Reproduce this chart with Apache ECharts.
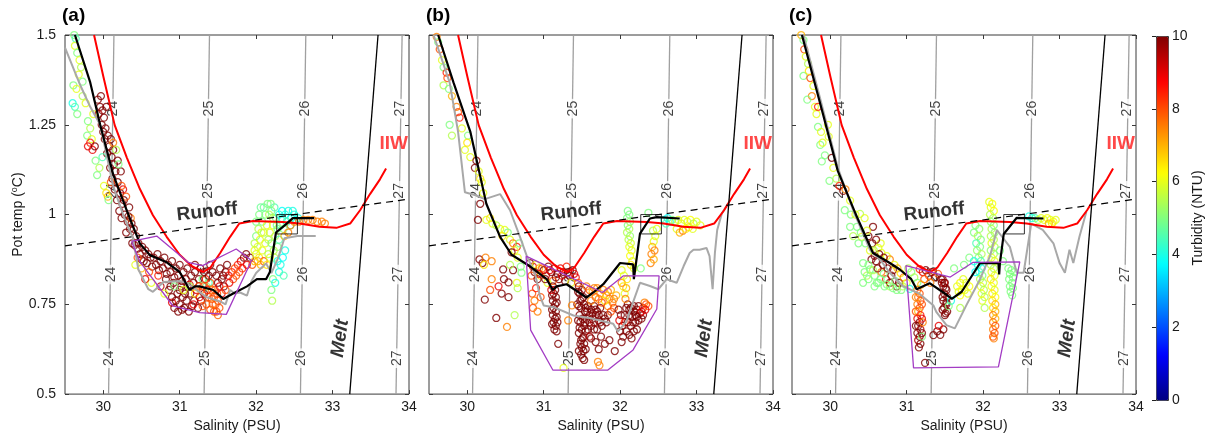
<!DOCTYPE html>
<html><head><meta charset="utf-8">
<script src="https://cdn.jsdelivr.net/npm/echarts@6/dist/echarts.min.js"></script>
<style>html,body{margin:0;padding:0;background:#fff}#chart{width:1211px;height:438px}</style>
</head><body><div id="chart"></div>
<script>
// Potential temperature vs salinity, three surveys, points coloured by turbidity (NTU)
const salTicks = [30, 31, 32, 33, 34];
const tempTicks = [0.5, 0.75, 1, 1.25, 1.5];
const turbTicks = [0, 2, 4, 6, 8, 10];

// sigma-theta isopycnals: salinity where each meets 0.5 and 1.5 degC
const isoLevels = ['24', '25', '26', '27'];
const isoBottomS = [30.07, 31.32, 32.58, 33.83];
const isoTopS = [30.14, 31.39, 32.65, 33.91];
const isoLabelT = [1.295, 1.066, 0.833, 0.60];
const isoLabelS = [
  [30.13, 30.12, 30.10, 30.08],
  [31.38, 31.37, 31.35, 31.33],
  [32.64, 32.62, 32.61, 32.59],
  [33.89, 33.87, 33.86, 33.84]
];

// mixing lines
const iiwLine = [[29.88,1.5],[30.0,1.386],[30.15,1.249],[30.31,1.158],[30.48,1.071],[30.65,0.998],[30.83,0.938],[31.0,0.888],[31.16,0.856],[31.31,0.84],[31.4,0.852],[31.53,0.893],[31.66,0.938],[31.78,0.975],[31.96,0.982],[32.35,0.979],[32.57,0.975],[32.83,0.966],[33.05,0.963],[33.23,0.975],[33.36,1.012],[33.49,1.057],[33.62,1.098],[33.7,1.128]];
const runoffLine = [[29.5,0.913],[34,1.043]];
const meltLine = [[33.225,0.5],[33.595,1.5]];
const boxOutline = [[32.27,0.946],[32.54,0.946],[32.54,1.0],[32.27,1.0],[32.27,0.946]];
const runoffLabelPos = [31.36, 1.007];
const meltLabelPos = [33.10, 0.655];
const iiwLabelPos = [33.80, 1.196];

// mean profiles (black)
const meanA = [[29.63,1.5],[29.83,1.368],[29.96,1.25],[30.13,1.112],[30.31,1.01],[30.48,0.919],[30.61,0.887],[30.83,0.867],[31.0,0.84],[31.13,0.79],[31.2,0.8],[31.26,0.8],[31.44,0.79],[31.57,0.765],[31.7,0.78],[31.88,0.8],[32.01,0.82],[32.13,0.82],[32.18,0.84],[32.26,0.95],[32.37,0.969],[32.48,0.99],[32.76,0.99]];
const meanB = [[29.62,1.5],[29.82,1.368],[30.04,1.231],[30.25,1.03],[30.43,0.938],[30.58,0.888],[30.82,0.856],[31.04,0.82],[31.12,0.79],[31.17,0.8],[31.3,0.806],[31.56,0.769],[31.65,0.783],[31.78,0.806],[32.0,0.865],[32.17,0.861],[32.18,0.82],[32.26,0.947],[32.39,0.989],[32.48,0.993],[32.78,0.989]];
const meanC = [[29.63,1.5],[29.91,1.276],[30.1,1.121],[30.35,0.993],[30.56,0.893],[30.78,0.865],[30.91,0.847],[31.06,0.82],[31.13,0.792],[31.3,0.809],[31.48,0.783],[31.59,0.765],[31.72,0.785],[31.96,0.865],[32.2,0.865],[32.21,0.833],[32.22,0.865],[32.27,0.946],[32.44,0.991],[32.79,0.989]];

// reference profiles (grey)
const refA = [[29.5,1.465],[29.7,1.36],[29.83,1.3],[29.96,1.25],[30.04,1.17],[30.13,1.08],[30.26,1.0],[30.39,0.933],[30.46,0.847],[30.59,0.792],[30.65,0.785],[30.79,0.812],[31.0,0.815],[31.09,0.81],[31.35,0.77],[31.53,0.758],[31.6,0.75],[31.66,0.79],[31.72,0.78],[31.79,0.783],[31.88,0.774],[31.94,0.815],[32.0,0.837],[32.13,0.864],[32.2,0.837],[32.29,0.88],[32.37,0.934],[32.54,0.94],[32.78,0.94]];
const refB = [[29.56,1.5],[29.77,1.368],[29.88,1.231],[29.97,1.062],[30.12,1.053],[30.23,1.043],[30.43,1.057],[30.56,1.012],[30.69,0.938],[30.78,0.884],[30.89,0.833],[30.95,0.774],[31.0,0.747],[31.13,0.742],[31.39,0.719],[31.6,0.712],[31.91,0.696],[31.97,0.674],[32.08,0.701],[32.17,0.756],[32.26,0.81],[32.39,0.801],[32.5,0.792],[32.61,0.82],[32.74,0.81],[32.83,0.856],[32.91,0.893],[32.96,0.902],[33.04,0.902],[33.13,0.907],[33.17,0.884],[33.21,0.792],[33.24,0.893],[33.27,0.957],[33.33,1.002],[33.41,1.03]];
const refC = [[29.65,1.5],[29.87,1.322],[30.1,1.13],[30.3,1.012],[30.52,0.902],[30.65,0.875],[30.78,0.838],[30.95,0.801],[31.17,0.779],[31.35,0.747],[31.39,0.728],[31.52,0.692],[31.63,0.683],[31.78,0.747],[31.96,0.82],[32.09,0.884],[32.18,0.957],[32.35,0.91],[32.44,0.838],[32.53,0.838],[32.63,0.975],[32.78,0.957],[32.92,0.92],[33.0,0.865],[33.07,0.838],[33.13,0.902],[33.18,0.865],[33.26,0.938],[33.35,1.007]];

// outlines of the deep water groups (purple)
const groupA = [[30.37,0.925],[30.7,0.94],[31.11,0.867],[31.3,0.858],[31.74,0.904],[31.94,0.872],[31.61,0.722],[31.26,0.727],[30.91,0.746],[30.48,0.869],[30.37,0.925]];
const groupB = [[30.77,0.884],[31.77,0.783],[32.04,0.829],[32.51,0.829],[32.48,0.737],[32.17,0.623],[31.84,0.567],[31.12,0.567],[30.83,0.678],[30.77,0.884]];
const groupC = [[30.99,0.858],[31.57,0.826],[31.87,0.867],[32.48,0.868],[32.2,0.576],[31.09,0.573],[30.99,0.858]];

// observations: [salinity, pot temp, turbidity]
const obsA = [
[29.62,1.50,5],[29.64,1.49,4.5],[29.63,1.47,6],[29.66,1.45,5],[29.69,1.43,6],[29.71,1.41,5.5],[29.68,1.39,6],[29.73,1.37,5],[29.61,1.36,5],[29.65,1.35,6],[29.60,1.31,4],[29.63,1.30,4.5],[29.66,1.28,5],[29.73,1.33,5.5],[29.77,1.31,6],[29.80,1.26,5],[29.83,1.24,5.5],[29.87,1.28,6],[29.79,1.22,5],[29.85,1.21,6],
[29.93,1.32,10],[29.96,1.30,10],[29.94,1.28,9.5],[29.99,1.29,10],[30.01,1.27,10],[29.98,1.25,10],[30.03,1.24,10],[30.06,1.22,10],[30.02,1.21,10],[30.08,1.19,10],[30.05,1.17,10],[30.11,1.16,10],[30.14,1.14,10],[30.09,1.13,10],[30.16,1.12,10],[30.12,1.10,10],[30.19,1.09,10],[30.15,1.07,10],[30.22,1.06,10],[30.18,1.04,10],[30.25,1.03,10],[30.21,1.01,10],
[29.97,1.33,10],[30.04,1.30,10],[30.00,1.23,10],[30.10,1.21,10],[30.13,1.18,10],[30.19,1.15,10],[30.23,1.12,10],[30.26,1.07,9],[30.27,1.04,10],[30.24,0.99,10],[30.34,1.02,10],
[29.80,1.19,9],[29.83,1.20,8.5],[29.86,1.18,9],[29.89,1.19,10],[30.10,1.09,8],[30.13,1.20,7.5],[30.24,1.08,8],[30.30,1.05,8],[30.36,0.99,7.5],[30.06,1.05,7],
[29.90,1.15,5],[29.95,1.13,5.5],[29.92,1.11,5],[29.99,1.16,4.5],[30.01,1.08,6],[30.04,1.06,6.5],[30.07,1.04,5],[30.20,1.14,5],[30.17,1.18,5.5],
[30.28,1.00,10],[30.32,0.98,10],[30.35,0.96,10],[30.30,0.95,10],[30.40,0.96,10],[30.43,0.94,10],[30.46,0.92,10],[30.38,0.92,10],[30.51,0.91,10],[30.48,0.89,10],[30.55,0.90,10],[30.59,0.89,10],[30.62,0.88,10],[30.53,0.87,10],[30.66,0.88,10],[30.71,0.89,10],[30.69,0.86,10],[30.75,0.87,10],[30.80,0.88,10],[30.78,0.85,10],[30.85,0.86,10],[30.90,0.87,10],[30.88,0.84,10],[30.95,0.85,10],[31.00,0.86,10],[30.98,0.83,10],[31.05,0.84,10],[31.10,0.85,10],[31.08,0.82,10],[31.15,0.83,10],[31.20,0.84,10],[31.18,0.81,10],[31.25,0.82,10],
[30.33,0.995,10],[30.37,0.975,10],[30.41,0.915,10],[30.45,0.905,10],[30.50,0.875,10],[30.57,0.865,10],[30.64,0.855,10],[30.73,0.845,10],[30.83,0.835,10],[30.93,0.825,10],[31.03,0.815,10],[31.13,0.805,9],[30.88,0.80,10],[30.97,0.78,10],[31.07,0.78,10],[31.16,0.745,10],[31.03,0.735,10],[30.90,0.755,9],
[30.45,0.88,8],[30.50,0.85,7],[30.42,0.86,6],[30.60,0.84,8],[30.72,0.83,8.5],[30.63,0.81,6],[30.55,0.82,9],[30.82,0.82,10],[30.92,0.81,10],[30.75,0.80,9.5],
[30.86,0.79,10],[30.90,0.77,10],[30.95,0.76,10],[31.00,0.75,10],[31.04,0.77,10],[30.93,0.74,10],[31.09,0.76,10],[31.14,0.78,10],[31.19,0.76,10],[31.24,0.74,10],[31.00,0.79,10],[30.98,0.73,10],[31.06,0.74,10],[31.12,0.73,10],[31.18,0.75,9],[31.28,0.76,10],[31.32,0.78,10],[31.22,0.79,9],[31.02,0.80,10],[31.10,0.80,10],
[30.93,0.80,5],[31.05,0.79,6],[31.13,0.80,5.5],[31.35,0.80,5],[31.38,0.81,4.5],[31.30,0.82,5],[30.80,0.78,6],[31.20,0.78,6.5],
[31.25,0.80,8],[31.28,0.79,7.5],[31.31,0.80,8],[31.34,0.82,8.5],[31.40,0.81,8],[31.42,0.79,7.5],[31.45,0.77,8],[31.47,0.75,8],[31.48,0.73,8],[31.50,0.72,7.8],[31.45,0.73,8],[31.43,0.75,7.5],[31.50,0.76,8],[31.52,0.74,8],[31.49,0.78,8],[31.38,0.77,8],[31.35,0.75,8],
[31.26,0.77,9],[31.30,0.745,8],[31.40,0.735,8],[31.42,0.765,8],[31.46,0.79,8],[31.36,0.79,8.5],
[31.32,0.84,10],[31.38,0.83,10],[31.43,0.84,10],[31.48,0.83,10],[31.40,0.86,10],[31.50,0.81,10],[31.55,0.82,10],[31.58,0.80,10],[31.53,0.85,10],[31.60,0.84,10],[31.64,0.83,9],[31.62,0.86,10],[31.68,0.84,8.5],[31.72,0.85,8],[31.70,0.82,8],[31.76,0.86,8.5],[31.80,0.87,9],[31.78,0.84,8],[31.84,0.88,10],[31.87,0.89,10],[31.92,0.88,10],[31.55,0.78,9],[31.60,0.79,8],[31.20,0.86,10],[31.27,0.85,10],
[31.52,0.80,9],[31.57,0.83,10],[31.65,0.81,9],[31.74,0.83,8],[31.82,0.85,8.5],[31.88,0.86,9],
[31.95,0.86,8],[31.98,0.87,7],[32.00,0.89,6],[32.02,0.91,6],[31.98,0.92,5.5],[32.00,0.94,5],[32.03,0.96,5.5],[32.05,0.93,6],[32.04,0.88,6.5],[32.08,0.90,6],[32.10,0.95,5.5],[32.08,0.98,5],[32.12,1.00,5],[32.10,1.02,4.8],[32.15,1.03,5],[32.17,1.00,5.5],[32.14,0.97,6],[32.18,0.95,6],[32.12,0.92,6],[32.16,0.89,5.5],[32.20,0.92,5],[32.22,0.97,6],[32.20,1.01,5],[32.24,1.02,4.5],[32.26,0.99,5],[32.25,0.94,5.5],[32.28,0.91,5],[32.06,0.86,7],[32.10,0.87,8],[32.14,0.86,6.5],[32.24,0.88,5.5],
[32.00,0.98,5],[32.04,1.00,5],[32.06,1.02,4.8],[32.19,1.03,5],[32.22,0.99,5.5],[32.07,0.95,6],[32.16,0.93,5.5],[32.02,0.87,7],[31.98,0.90,6],[32.18,0.88,6],[32.23,0.90,5.5],[32.27,0.97,5],[32.30,0.93,4.5],[32.34,0.99,4],[32.48,1.01,4],[32.52,0.985,4],
[32.30,1.00,4],[32.34,1.01,3.8],[32.38,1.00,4],[32.42,1.01,4],[32.46,0.99,3.8],[32.50,1.00,4],[32.55,0.99,4],[32.32,0.97,4.5],[32.36,0.96,5],[32.40,0.98,4.5],[32.28,0.96,5],[32.45,0.97,4],
[32.45,0.97,7.5],[32.50,0.98,7.5],[32.56,0.98,7.5],[32.62,0.985,7.5],[32.68,0.985,7.5],[32.74,0.985,7.5],[32.80,0.98,7.5],[32.86,0.98,7.5],[32.90,0.975,7.5],[32.42,0.95,7.5],[32.37,0.94,7],
[32.28,0.87,4],[32.32,0.86,4],[32.35,0.88,3.8],[32.30,0.84,4],[32.36,0.83,4.5],[32.22,0.82,5],[32.20,0.79,5],[32.21,0.76,5.5],[32.25,0.81,4],[32.38,0.90,4]
];
const obsB = [
[29.60,1.495,7.5],[29.62,1.48,5],[29.64,1.46,8],[29.67,1.43,6],[29.69,1.41,5],[29.73,1.395,8.5],[29.74,1.38,8],[29.69,1.36,5.5],[29.76,1.35,5],[29.80,1.33,7],[29.86,1.30,7.5],[29.88,1.285,8],[29.90,1.27,8.5],[29.77,1.25,5],[29.80,1.22,5.5],[29.93,1.24,6],[30.01,1.22,5],[29.97,1.18,6],[30.00,1.20,6.5],[30.04,1.16,6],[30.12,1.15,10],[30.10,1.13,10],[30.15,1.12,6],[30.17,1.10,6.5],[30.19,1.09,6],[30.21,1.06,6],[30.17,1.03,10],[30.14,0.985,10],[30.25,0.985,6],[30.30,0.99,6.5],[30.33,0.975,6],[30.38,0.97,5.5],[30.43,0.96,6],[30.49,0.957,6],[30.53,0.95,5],[30.46,0.94,6.5],[30.56,0.93,6],[30.60,0.92,7.5],[30.65,0.91,8.5],[30.68,0.92,5],[30.62,0.90,6],[30.58,0.895,10],[30.66,0.88,6],
[30.16,0.875,10],[30.20,0.865,10],[30.24,0.88,7.5],[30.22,0.86,6.5],[30.32,0.87,7.5],[30.32,0.82,7.5],[30.47,0.847,10],[30.48,0.82,10],[30.54,0.811,10],[30.45,0.78,10],[30.54,0.77,10],[30.23,0.763,10],[30.38,0.712,10],[30.52,0.687,7.5],[30.62,0.72,5.5],[30.65,0.81,6],[30.66,0.795,5.5],[30.71,0.838,5],[30.70,0.855,5],[30.60,0.845,10],[30.41,0.80,9],[30.30,0.79,8],[30.56,0.86,5.5],
[30.82,0.865,10],[30.86,0.855,9],[30.90,0.86,6],[30.94,0.85,7],[30.88,0.84,10],[30.96,0.83,6.5],[31.00,0.845,10],[31.03,0.83,9],[30.84,0.83,8],[30.92,0.82,10],[31.06,0.855,10],[31.10,0.84,10],[31.14,0.85,9.5],[31.18,0.835,10],[31.22,0.85,9],[31.26,0.84,10],[31.30,0.855,8.5],[31.34,0.83,10],[31.38,0.845,10],[31.42,0.825,9],[31.20,0.82,10],[31.28,0.815,10],[31.12,0.815,8],[31.05,0.81,6],[31.36,0.81,6],[31.45,0.81,8],
[30.98,0.85,8],[31.08,0.845,9],[31.16,0.825,10],[31.24,0.83,9],[31.32,0.84,10],[31.40,0.835,9],[30.94,0.835,9],[31.02,0.82,10],
[30.85,0.78,8],[30.88,0.76,7.5],[30.86,0.74,8],[30.92,0.73,7.5],[30.96,0.77,8],[30.90,0.795,8.5],
[31.12,0.80,10],[31.15,0.79,10],[31.13,0.78,10],[31.16,0.77,10],[31.12,0.76,10],[31.15,0.75,10],[31.13,0.74,10],[31.16,0.73,10],[31.12,0.72,10],[31.15,0.71,10],[31.13,0.70,10],[31.16,0.69,10],[31.14,0.68,10],[31.17,0.675,10],[31.19,0.64,10],[31.10,0.79,9],
[31.11,0.775,10],[31.17,0.755,10],[31.11,0.735,10],[31.17,0.715,10],[31.11,0.695,10],[31.18,0.70,10],
[31.46,0.80,10],[31.50,0.79,10],[31.47,0.78,10],[31.52,0.77,10],[31.48,0.76,10],[31.53,0.75,10],[31.49,0.74,10],[31.54,0.73,10],[31.47,0.72,10],[31.51,0.71,10],[31.48,0.70,10],[31.53,0.69,10],[31.50,0.68,10],[31.46,0.67,10],[31.52,0.66,10],[31.49,0.65,10],[31.53,0.64,10],[31.50,0.63,10],[31.52,0.62,10],[31.49,0.61,10],[31.51,0.60,10],[31.53,0.595,10],[31.44,0.75,10],[31.56,0.71,10],
[31.45,0.785,10],[31.50,0.765,10],[31.46,0.745,10],[31.55,0.74,10],[31.45,0.705,10],[31.54,0.70,10],[31.47,0.685,10],[31.55,0.675,10],[31.48,0.64,10],[31.51,0.655,10],[31.46,0.62,10],[31.55,0.625,10],
[31.58,0.745,10],[31.62,0.735,10],[31.66,0.745,10],[31.70,0.73,10],[31.74,0.74,10],[31.60,0.72,10],[31.64,0.71,10],[31.68,0.72,10],[31.72,0.705,10],[31.78,0.72,10],[31.62,0.69,10],[31.70,0.68,10],[31.76,0.69,10],[31.82,0.70,10],[31.66,0.70,9.5],[31.58,0.68,10],
[31.57,0.73,10],[31.60,0.70,10],[31.64,0.725,10],[31.68,0.735,10],[31.72,0.72,10],[31.74,0.70,10],[31.80,0.71,10],[31.84,0.72,10],[31.66,0.68,10],[31.60,0.66,9.5],
[31.56,0.80,7.5],[31.60,0.79,8],[31.64,0.785,7],[31.70,0.795,7.5],[31.74,0.78,7],[31.68,0.77,8],[31.78,0.79,7.5],[31.82,0.775,7],[31.86,0.765,7.5],[31.90,0.755,7.5],[31.84,0.745,7.5],[31.92,0.74,8],[31.80,0.76,6.5],[31.95,0.775,7],[31.88,0.79,7],[31.76,0.755,8],[31.62,0.76,7.5],
[31.66,0.795,7.5],[31.72,0.765,7.5],[31.84,0.785,7.5],[31.92,0.765,7.5],[31.88,0.73,8],
[31.62,0.655,10],[31.68,0.645,10],[31.75,0.66,10],[31.80,0.64,10],[31.86,0.65,10],[31.93,0.62,10],[31.72,0.625,10],
[31.71,0.59,7.5],[31.73,0.58,7.5],[31.32,0.705,7.5],[31.37,0.747,7.5],[31.26,0.573,6],
[31.98,0.735,10],[32.01,0.72,10],[31.99,0.705,9],[32.03,0.69,10],[32.00,0.675,10],[32.04,0.66,10],[32.02,0.645,10],[32.06,0.70,8.5],
[32.10,0.75,10],[32.14,0.74,10],[32.18,0.745,10],[32.22,0.735,10],[32.12,0.72,10],[32.16,0.715,10],[32.20,0.72,10],[32.26,0.725,10],[32.10,0.70,10],[32.14,0.69,10],[32.20,0.70,10],[32.24,0.705,10],[32.30,0.74,8.5],[32.34,0.75,8],[32.37,0.745,8],[32.32,0.755,7.5],[32.28,0.71,10],
[32.12,0.735,10],[32.18,0.73,10],[32.24,0.745,10],[32.28,0.73,9],[32.17,0.70,10],[32.22,0.715,10],[32.06,0.72,10],[32.08,0.74,10],[32.30,0.72,10],[32.33,0.735,9],
[32.08,0.675,10],[32.12,0.665,10],[32.18,0.675,10],[32.22,0.68,10],[32.15,0.655,10],
[32.02,0.81,7.5],[32.04,0.80,6.5],[32.06,0.78,6],[32.08,0.795,7],[32.05,0.83,6],[32.02,0.845,6],[32.09,0.82,6.5],[32.07,0.765,7.5],
[32.10,1.01,5],[32.12,1.00,5],[32.09,0.99,5],[32.13,0.98,5.2],[32.10,0.97,5],[32.12,0.96,5.5],[32.09,0.95,5.5],[32.13,0.94,5.2],[32.11,0.93,5.6],[32.14,0.92,5.8],[32.12,0.91,6],[32.15,0.90,6],[32.13,0.885,6.2],[32.16,0.87,6],[32.14,0.86,6.5],[32.18,0.85,6],[32.27,0.85,5],
[32.43,0.955,5.5],[32.46,0.94,6],[32.44,0.925,6],[32.42,0.91,7],[32.45,0.90,7.5],[32.41,0.89,7.5],[32.44,0.875,7],[32.40,0.865,7.5],[32.37,1.005,5],[32.48,0.96,6],
[32.58,0.985,4],[32.62,0.99,3.8],[32.65,0.98,4],[32.60,0.975,4.5],[32.68,0.985,5],[32.72,0.98,5.5],[32.76,0.985,6],[32.80,0.975,6],[32.84,0.985,6],[32.88,0.98,6],[32.92,0.985,6.2],[32.96,0.975,5.5],[33.00,0.98,6],[33.05,0.97,6],[32.74,0.96,6],[32.78,0.95,7],[32.82,0.955,7.5],[32.86,0.96,6.5],[32.90,0.965,6.5],[32.95,0.96,6]
];
const obsC = [
[29.62,1.50,7],[29.65,1.486,5],[29.66,1.46,8],[29.68,1.44,6],[29.71,1.42,5.5],[29.65,1.386,5],[29.74,1.38,8],[29.72,1.40,6.5],[29.78,1.358,6],[29.76,1.33,7.5],[29.80,1.30,6],[29.82,1.28,6],[29.84,1.30,8.5],[29.84,1.244,5],[29.88,1.23,6],[29.98,1.217,6],[29.87,1.194,5],[29.89,1.148,5],[29.93,1.165,5],[30.02,1.158,10],[30.04,1.13,6],[29.99,1.094,5],[30.08,1.10,5.5],[30.12,1.08,8.5],[30.17,1.066,10],[30.20,1.07,7.5],[30.26,1.039,6],[30.19,1.012,5],[30.27,1.00,5],[30.39,1.002,5.5],[30.45,0.99,6],[30.26,0.966,5],[30.35,0.966,5],[30.30,0.94,5.5],[30.41,0.938,6],[30.50,0.94,10],[30.56,0.966,10],[30.37,0.92,5],[30.46,0.92,5],[30.55,0.92,10],[30.63,0.907,6],[30.67,0.893,6],[30.74,0.884,6],[30.78,0.875,7.5],[30.54,0.875,10],[30.58,0.885,10],[30.60,0.87,10],[30.52,0.847,5],[30.58,0.83,5],[30.67,0.84,7.5],[30.73,0.82,8.5],[30.63,0.81,5],[30.71,0.80,5],[30.78,0.81,10],[30.87,0.80,10],[30.93,0.79,5],[30.43,0.865,5],[30.43,0.81,5],[30.61,0.81,5],[30.78,0.80,5.5],[30.87,0.79,5],[30.48,0.83,5.5],[30.69,0.86,10],[30.82,0.845,10],[30.84,0.86,6],[30.88,0.85,7],[30.66,0.92,6],[30.52,0.90,6],[29.97,1.25,6],[29.70,1.32,5],[29.90,1.20,6],[30.33,1.00,6],
[30.40,0.95,5],[30.48,0.955,6],[30.60,0.93,10],[30.64,0.89,10],[30.70,0.88,10],[30.57,0.90,5.5],[30.50,0.86,5],[30.56,0.845,5.5],[30.62,0.85,10],[30.70,0.835,5],[30.75,0.85,10],[30.80,0.83,10],[30.85,0.815,5],[30.90,0.81,10],[30.95,0.80,5.5],[30.66,0.82,5],[30.74,0.805,5],[30.82,0.795,5],[30.58,0.80,5],[30.50,0.82,5],[30.45,0.84,5],
[30.92,0.837,6.5],[30.96,0.825,7.5],[31.00,0.81,6],[31.04,0.793,4],[31.02,0.85,5.5],[31.06,0.84,5],[31.10,0.825,5.5],[31.14,0.81,5],[31.17,0.848,8.5],[31.21,0.84,9],[31.25,0.845,10],[31.29,0.83,8],[31.33,0.84,9.5],[31.37,0.825,10],[31.41,0.835,8],[31.45,0.82,10],[31.49,0.81,9],[31.23,0.82,8],[31.31,0.81,7.5],[31.19,0.805,7],
[31.14,0.79,7.5],[31.17,0.78,8],[31.15,0.77,7.5],[31.18,0.76,8],[31.14,0.75,7.5],[31.17,0.74,8],[31.15,0.73,7],[31.18,0.72,8.5],[31.14,0.71,9],[31.17,0.70,10],[31.15,0.69,10],[31.18,0.68,9.5],[31.14,0.67,10],[31.17,0.66,10],[31.15,0.65,9.5],[31.18,0.64,10],[31.16,0.63,10],[31.21,0.70,7.5],[31.20,0.66,5],
[31.12,0.77,7.5],[31.20,0.75,8],[31.12,0.73,8],[31.20,0.71,9],[31.12,0.69,10],[31.20,0.67,10],
[31.47,0.82,10],[31.50,0.81,10],[31.48,0.80,10],[31.52,0.79,10],[31.49,0.78,10],[31.53,0.77,10],[31.48,0.76,10],[31.52,0.75,10],[31.49,0.74,10],[31.53,0.73,10],[31.50,0.72,10],
[31.46,0.81,10],[31.51,0.795,10],[31.47,0.77,10],[31.52,0.755,10],[31.47,0.735,10],[31.51,0.725,10],
[31.35,0.664,10],[31.40,0.675,10],[31.44,0.665,10],[31.48,0.68,10],[31.42,0.69,9],[31.24,0.587,10],
[31.66,0.80,6],[31.70,0.81,6.2],[31.74,0.82,6],[31.78,0.81,6],[31.82,0.80,6.2],[31.68,0.785,6],[31.72,0.79,6.2],[31.76,0.79,6],[31.80,0.78,6],[31.70,0.775,6.2],
[31.90,0.97,5],[31.95,0.96,5.2],[31.88,0.95,5],[31.93,0.94,5.5],[31.97,0.93,5],[31.91,0.92,4.5],[31.96,0.91,5],[31.92,0.90,5.2],[31.98,0.89,5.5],[31.94,0.88,5],[31.97,0.87,4.5],[31.93,0.86,4],[31.98,0.85,4],[31.95,0.84,4.5],[31.99,0.83,5],[31.96,0.82,5.5],[32.00,0.81,5.5],[31.97,0.80,6],[32.01,0.79,5.5],[31.98,0.78,6],[32.02,0.77,5.5],[31.99,0.76,6],[32.02,0.74,5.5],
[32.08,1.035,6],[32.12,1.03,6.2],[32.10,1.02,6],[32.14,1.01,6.2],[32.09,1.00,5.5],[32.13,0.99,5.5],[32.10,0.98,5.2],[32.14,0.97,5],[32.11,0.96,5.5],[32.15,0.95,5.2],[32.10,0.94,5.5],[32.14,0.93,5.5],[32.11,0.92,6],[32.15,0.91,5.5],[32.10,0.90,5.2],[32.14,0.89,5.5],[32.11,0.88,6],[32.15,0.87,6],[32.10,0.86,5.5],[32.14,0.85,5.5],[32.11,0.84,6],[32.15,0.83,6],[32.10,0.82,6.5],[32.14,0.81,6],[32.11,0.80,6.2],[32.15,0.79,6],[32.12,0.78,6.5],[32.16,0.77,6.2],[32.12,0.76,6.5],[32.16,0.75,7],[32.13,0.74,6.5],[32.16,0.73,7],[32.13,0.72,7.5],[32.16,0.71,7],[32.13,0.70,7.5],[32.16,0.69,8],[32.13,0.68,7.5],[32.15,0.67,8],[32.13,0.66,8],[32.14,0.655,7.5],
[32.33,0.85,5],[32.37,0.845,5],[32.35,0.835,5],[32.39,0.825,5],[32.34,0.82,5],[32.38,0.81,5],[32.35,0.80,5],[32.39,0.795,5],[32.36,0.785,5],[32.38,0.775,5],[32.41,0.84,5],
[32.60,0.995,4],[32.64,0.99,4],[32.68,0.99,4.5],[32.72,0.985,5.5],[32.76,0.99,6],[32.80,0.985,6],[32.84,0.99,6.2],[32.88,0.985,6],[32.92,0.98,6.2],[32.95,0.985,6],[32.86,0.975,7],[32.90,0.975,6.5],
[31.62,0.85,5],[31.75,0.86,5],[31.82,0.88,5],[32.22,0.90,5],[32.26,0.87,5],[31.58,0.76,4],[31.70,0.74,5.5],[31.55,0.745,5],[31.88,0.87,4],[31.90,0.84,3.8]
];

const FONT = "'Liberation Sans', Arial, Helvetica, sans-serif";
const AX = '#3a3a3a';
const JET = ['#000080', '#0000ff', '#0080ff', '#00ffff', '#80ff80', '#ffff00', '#ff8000', '#ff0000', '#800000'];

// MATLAB-style jet colour for a turbidity value on the 0-10 scale
function jet(v) {
  const t = Math.max(0, Math.min(1, v / 10));
  const c = k => Math.round(255 * Math.max(0, Math.min(1, 1.5 - Math.abs(4 * t - k))));
  return 'rgb(' + c(3) + ',' + c(2) + ',' + c(1) + ')';
}

const panels = [
  { tag: '(a)', left: 65, obs: obsA, mean: meanA, ref: refA, group: groupA },
  { tag: '(b)', left: 429, obs: obsB, mean: meanB, ref: refB, group: groupB },
  { tag: '(c)', left: 792, obs: obsC, mean: meanC, ref: refC, group: groupC }
];

const option = {
  animation: false,
  backgroundColor: '#fff',
  textStyle: { fontFamily: FONT },
  title: [], grid: [], xAxis: [], yAxis: [], series: [], visualMap: []
};

function lineSeries(i, data, style, z) {
  return {
    type: 'line', xAxisIndex: 2 * i, yAxisIndex: 2 * i, data: data,
    symbol: 'none', showSymbol: false, silent: true, clip: true, z: z,
    lineStyle: style, emphasis: { disabled: true }
  };
}

panels.forEach((p, i) => {
  option.title.push({
    text: p.tag, left: p.left - 3, top: 6, padding: 0,
    textStyle: { fontSize: 19, fontWeight: 'bold', color: '#000', fontFamily: FONT }
  });
  option.grid.push({
    left: p.left, top: 35, width: 344, height: 365, containLabel: false,
    show: true, borderColor: AX, borderWidth: 1, backgroundColor: '#fff'
  });
  const tick = { inside: true, length: 4, lineStyle: { color: AX, width: 1 } };
  option.xAxis.push({
    gridIndex: i, type: 'value', min: 29.5, max: 34, position: 'bottom',
    axisLine: { show: false }, splitLine: { show: false },
    axisTick: Object.assign({ customValues: salTicks }, tick),
    axisLabel: { customValues: salTicks, fontSize: 14, color: '#1a1a1a', margin: 6, fontFamily: FONT },
    name: 'Salinity (PSU)', nameLocation: 'middle', nameGap: 19,
    nameTextStyle: { fontSize: 14, color: '#1a1a1a', fontFamily: FONT }
  });
  option.xAxis.push({
    gridIndex: i, type: 'value', min: 29.5, max: 34, position: 'top',
    axisLine: { show: false }, splitLine: { show: false },
    axisTick: Object.assign({ customValues: salTicks }, tick),
    axisLabel: { show: false }
  });
  option.yAxis.push({
    gridIndex: i, type: 'value', min: 0.5, max: 1.5, position: 'left',
    axisLine: { show: false }, splitLine: { show: false },
    axisTick: Object.assign({ customValues: tempTicks }, tick),
    axisLabel: {
      show: i === 0, customValues: tempTicks, fontSize: 14, color: '#1a1a1a', margin: 9,
      fontFamily: FONT, formatter: v => String(v)
    },
    name: i === 0 ? '{a|Pot temp (}{s|o}{a|C)}' : '',
    nameLocation: 'middle', nameGap: 38, nameRotate: 90,
    nameTextStyle: {
      fontFamily: FONT, color: '#1a1a1a',
      rich: {
        a: { fontSize: 14, color: '#1a1a1a', fontFamily: FONT, lineHeight: 16 },
        s: { fontSize: 9, color: '#1a1a1a', fontFamily: FONT, verticalAlign: 'top', lineHeight: 16, padding: [0, 0, 6, 0] }
      }
    }
  });
  option.yAxis.push({
    gridIndex: i, type: 'value', min: 0.5, max: 1.5, position: 'right',
    axisLine: { show: false }, splitLine: { show: false },
    axisTick: Object.assign({ customValues: tempTicks }, tick),
    axisLabel: { show: false }
  });

  // isopycnals
  isoLevels.forEach((lev, k) => {
    option.series.push(lineSeries(i, [[isoBottomS[k], 0.5], [isoTopS[k], 1.5]], { color: '#a0a0a0', width: 1.3 }, 1));
  });
  const isoLabels = [];
  isoLevels.forEach((lev, k) => {
    isoLabelT.forEach((t, j) => isoLabels.push({ name: lev, value: [isoLabelS[k][j], t] }));
  });
  option.series.push({
    type: 'scatter', xAxisIndex: 2 * i, yAxisIndex: 2 * i, data: isoLabels, z: 2,
    symbolSize: 1, itemStyle: { color: 'rgba(0,0,0,0)' }, silent: true,
    label: {
      show: true, position: 'inside', formatter: '{b}', rotate: 90,
      fontSize: 14, color: '#111', fontFamily: FONT,
      backgroundColor: '#fff', padding: [0, 2]
    }
  });

  // observations
  option.series.push({
    type: 'scatter', xAxisIndex: 2 * i, yAxisIndex: 2 * i, z: 3, silent: true,
    progressive: 0, symbol: 'circle', symbolSize: 7,
    data: p.obs.map(o => ({ value: [o[0], o[1]], itemStyle: { borderColor: jet(o[2]) } })),
    itemStyle: { color: 'rgba(0,0,0,0)', borderWidth: 1.25 }
  });

  option.series.push(lineSeries(i, p.ref, { color: '#a8a8a8', width: 2 }, 4));
  option.series.push(lineSeries(i, iiwLine, { color: '#ff0000', width: 2 }, 4));
  option.series.push(lineSeries(i, p.mean, { color: '#000', width: 2.2 }, 4));
  option.series.push(lineSeries(i, p.group, { color: '#a33cc4', width: 1.3 }, 4));
  option.series.push(lineSeries(i, runoffLine, { color: '#000', width: 1.2, type: [7, 5] }, 4));
  option.series.push(lineSeries(i, meltLine, { color: '#000', width: 1.3 }, 4));
  option.series.push(lineSeries(i, boxOutline, { color: '#000', width: 0.8 }, 4));

  // end-member annotations
  const big = { show: true, position: 'inside', fontSize: 19, fontWeight: 'bold', fontFamily: FONT, color: '#000' };
  option.series.push({
    type: 'scatter', xAxisIndex: 2 * i, yAxisIndex: 2 * i, z: 6, silent: true,
    symbolSize: 1, itemStyle: { color: 'rgba(0,0,0,0)' },
    data: [
      { value: runoffLabelPos, label: Object.assign({}, big, { formatter: 'Runoff', rotate: 6 }) },
      { value: meltLabelPos, label: Object.assign({}, big, { formatter: 'Melt', rotate: 82, fontStyle: 'italic' }) },
      { value: iiwLabelPos, label: Object.assign({}, big, { formatter: 'IIW', color: '#ff1a1a' }) }
    ]
  });
});

// colour bar
option.grid.push({ left: 1156, top: 36, width: 12, height: 364, show: false, containLabel: false });
option.xAxis.push({ gridIndex: 3, type: 'value', min: 0, max: 1, show: false });
option.yAxis.push({
  gridIndex: 3, type: 'value', min: 0, max: 10, position: 'right',
  axisLine: { show: false }, splitLine: { show: false },
  axisTick: { customValues: turbTicks, inside: true, length: 4, lineStyle: { color: '#222' } },
  axisLabel: { customValues: turbTicks, fontSize: 14, color: '#1a1a1a', margin: 4, fontFamily: FONT },
  name: 'Turbidity (NTU)', nameLocation: 'middle', nameGap: 23, nameRotate: 90,
  nameTextStyle: { fontSize: 14, color: '#1a1a1a', fontFamily: FONT }
});
option.series.push({ type: 'scatter', xAxisIndex: 6, yAxisIndex: 6, data: [], silent: true });
option.visualMap.push({
  type: 'continuous', min: 0, max: 10, seriesIndex: option.series.length - 1,
  orient: 'vertical', left: 1156, top: 36, itemWidth: 12, itemHeight: 364,
  calculable: false, padding: 0, borderColor: '#333', borderWidth: 1,
  inRange: { color: JET }, z: 1
});

const chart = echarts.init(document.getElementById('chart'), null, { renderer: 'canvas' });
chart.setOption(option);
</script></body></html>
